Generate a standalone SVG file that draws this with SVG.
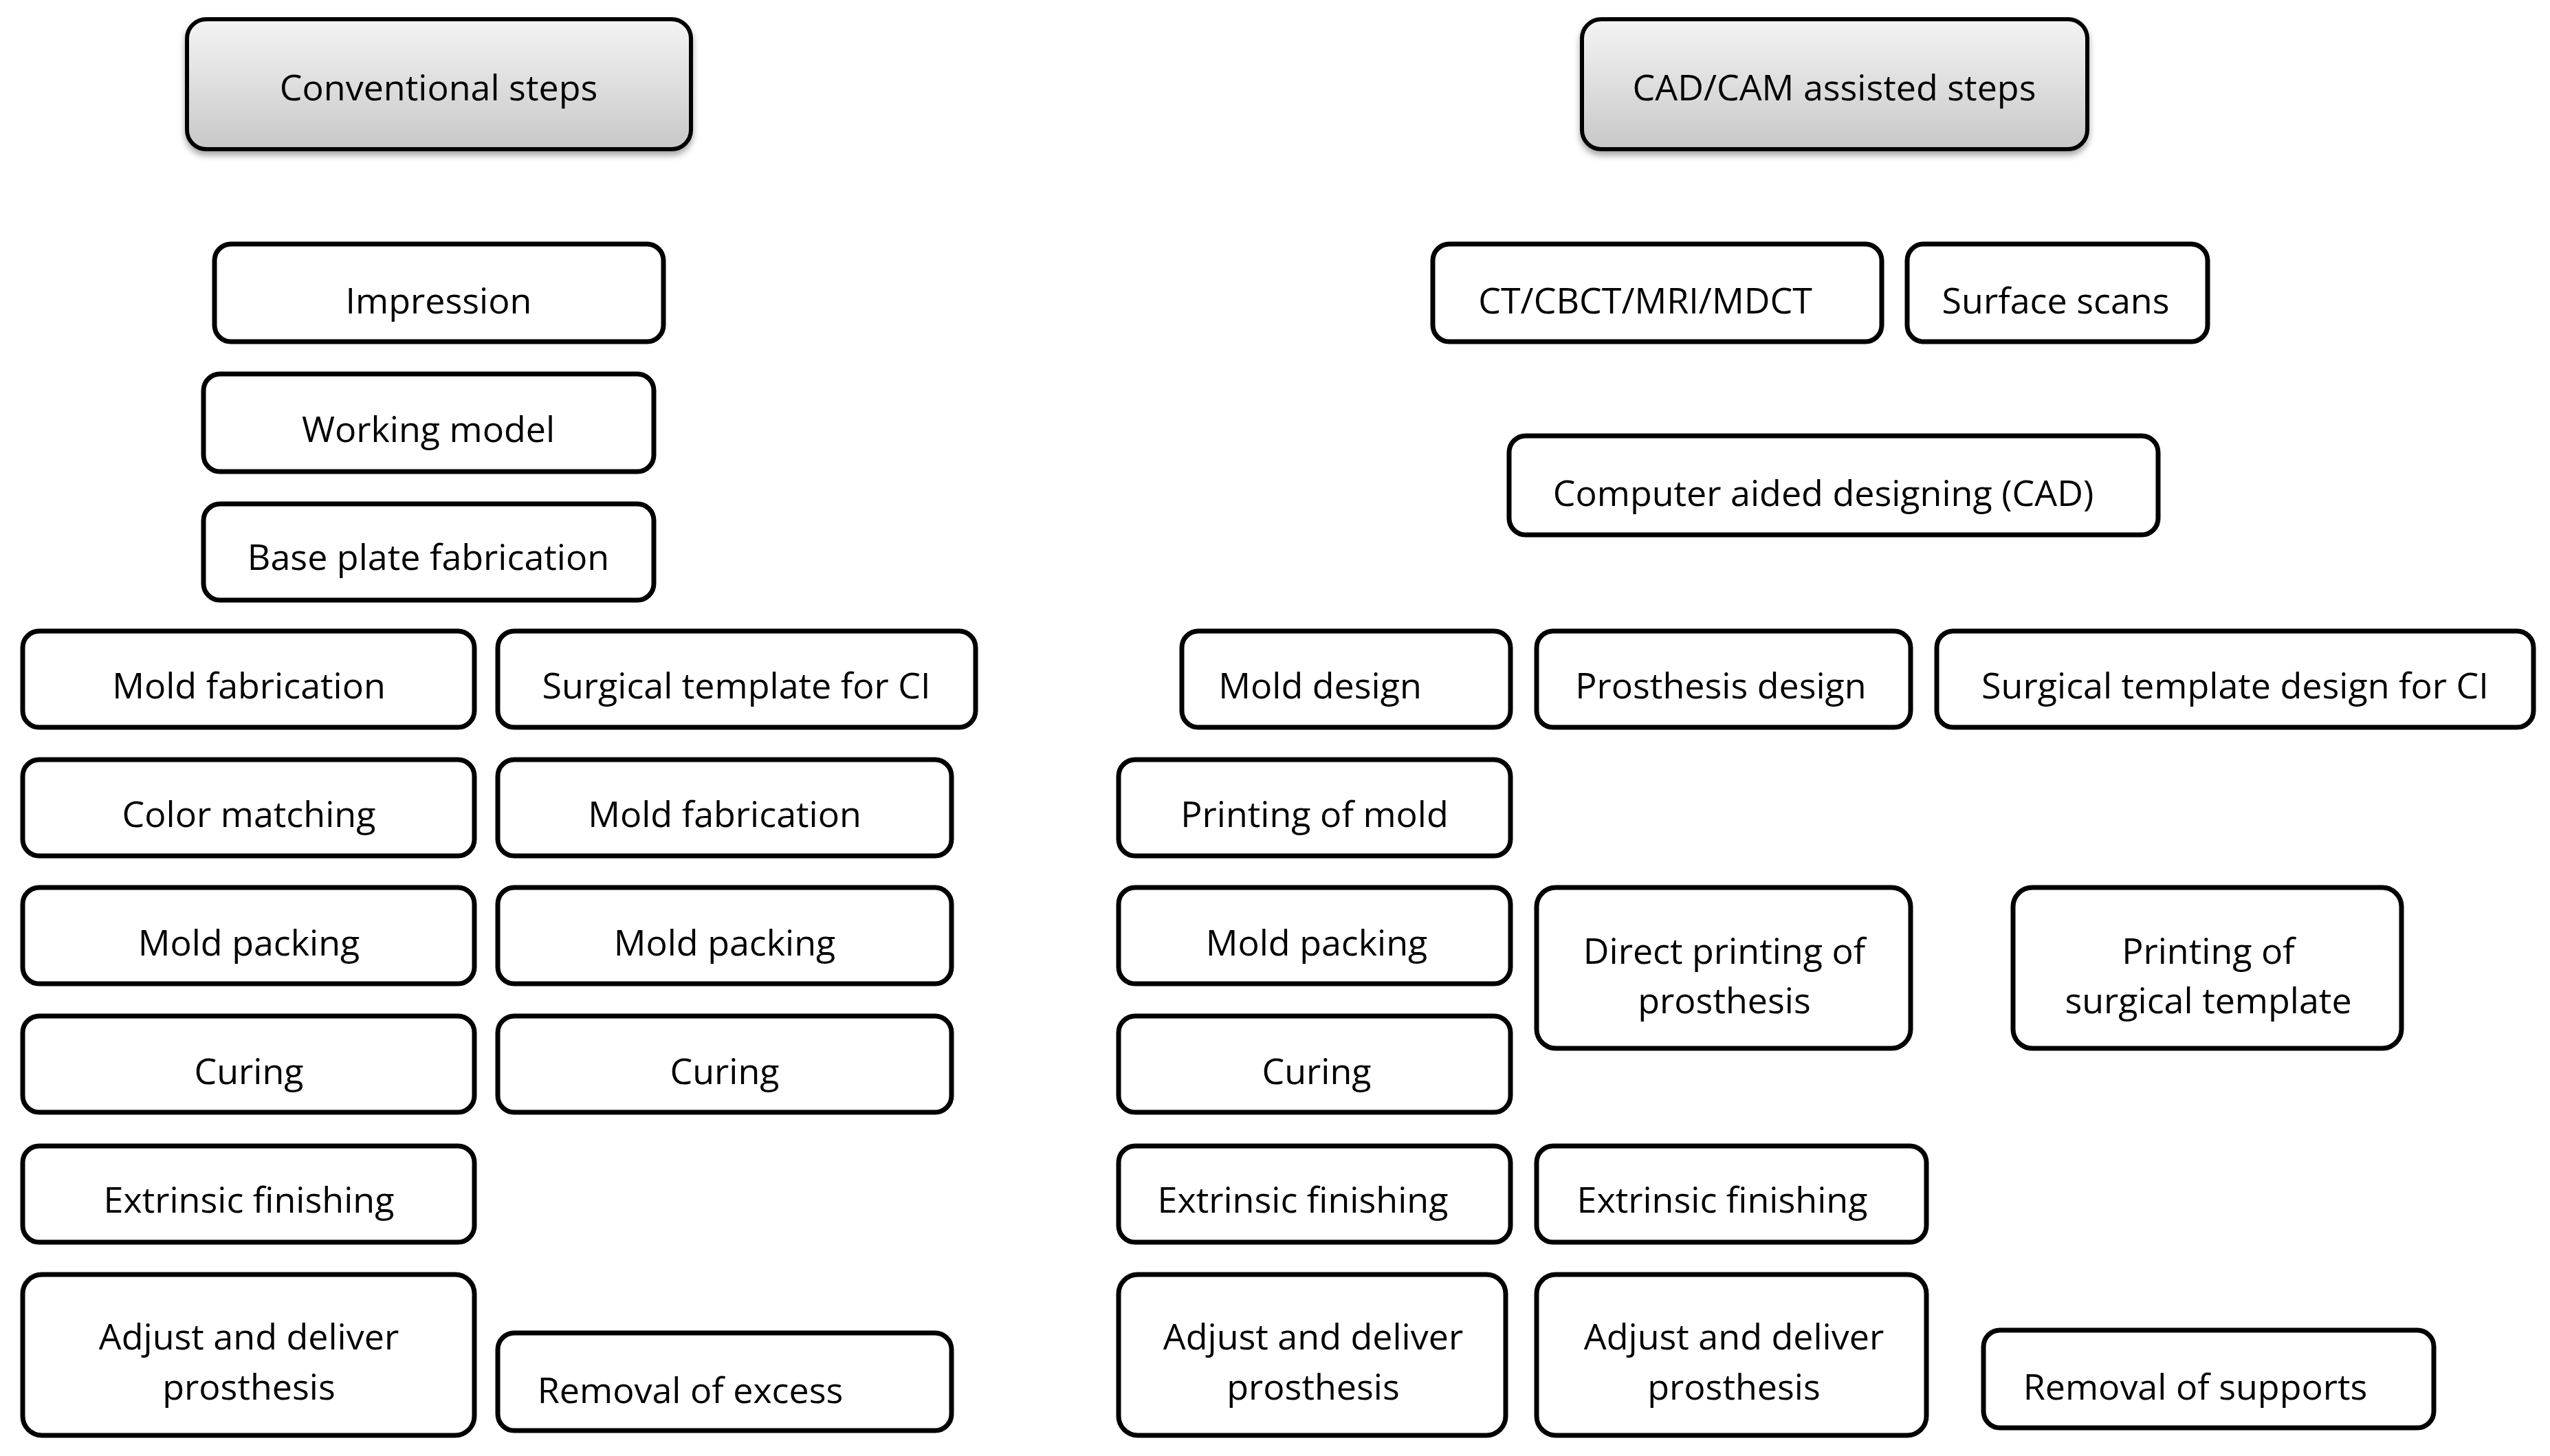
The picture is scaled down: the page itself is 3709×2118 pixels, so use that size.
<svg xmlns="http://www.w3.org/2000/svg" width="3709" height="2118" viewBox="0 0 3709 2118">
<style>
.b{fill:#fff;stroke:#000;stroke-width:7}
.h{fill:url(#g);stroke:#000;stroke-width:6;filter:url(#sh)}
text{font-family:"Open Sans","Noto Sans",sans-serif;font-size:52px;fill:#000;text-anchor:middle;dominant-baseline:central}
</style>
<defs>
<linearGradient id="g" x1="0" y1="0" x2="0" y2="1"><stop offset="0" stop-color="#f4f4f4"/><stop offset="1" stop-color="#c8c8c8"/></linearGradient>
<filter id="sh" x="-10%" y="-10%" width="120%" height="130%"><feDropShadow dx="0" dy="6" stdDeviation="5" flood-color="#000" flood-opacity="0.35"/></filter>
</defs>
<rect width="3709" height="2118" fill="#fff"/>
<g id="h1"><rect class="h" x="272" y="28" width="733" height="189" rx="28"/><text x="638" y="125">Conventional steps</text></g>
<g id="h2"><rect class="h" x="2301" y="28" width="735" height="189" rx="28"/><text x="2668" y="125">CAD/CAM assisted steps</text></g>
<g id="n1"><rect class="b" x="312" y="355" width="653" height="142" rx="24"/><text x="638" y="435">Impression</text></g>
<g id="n2"><rect class="b" x="296" y="544" width="655" height="142" rx="24"/><text x="623" y="622">Working model</text></g>
<g id="n3"><rect class="b" x="296" y="733" width="655" height="140" rx="24"/><text x="623" y="808">Base plate fabrication</text></g>
<g id="n4"><rect class="b" x="33" y="918" width="657" height="140" rx="24"/><text x="362" y="995">Mold fabrication</text></g>
<g id="n5"><rect class="b" x="724" y="918" width="695" height="140" rx="24"/><text x="1071" y="995">Surgical template for CI</text></g>
<g id="n6"><rect class="b" x="33" y="1105" width="657" height="140" rx="24"/><text x="362" y="1182">Color matching</text></g>
<g id="n7"><rect class="b" x="724" y="1105" width="660" height="140" rx="24"/><text x="1054" y="1182">Mold fabrication</text></g>
<g id="n8"><rect class="b" x="33" y="1291" width="657" height="140" rx="24"/><text x="362" y="1369">Mold packing</text></g>
<g id="n9"><rect class="b" x="724" y="1291" width="660" height="140" rx="24"/><text x="1054" y="1369">Mold packing</text></g>
<g id="n10"><rect class="b" x="33" y="1478" width="657" height="140" rx="24"/><text x="362" y="1556">Curing</text></g>
<g id="n11"><rect class="b" x="724" y="1478" width="660" height="140" rx="24"/><text x="1054" y="1556">Curing</text></g>
<g id="n12"><rect class="b" x="33" y="1667" width="657" height="140" rx="24"/><text x="362" y="1743">Extrinsic finishing</text></g>
<g id="n13"><rect class="b" x="33" y="1854" width="657" height="234" rx="28"/><text x="362" y="1942">Adjust and deliver</text><text x="362" y="2015">prosthesis</text></g>
<g id="n14"><rect class="b" x="724" y="1939" width="660" height="142" rx="24"/><text x="1004" y="2020">Removal of excess</text></g>
<g id="r1"><rect class="b" x="2084" y="355" width="653" height="142" rx="24"/><text x="2393" y="435">CT/CBCT/MRI/MDCT</text></g>
<g id="r2"><rect class="b" x="2774" y="355" width="437" height="142" rx="24"/><text x="2990" y="435">Surface scans</text></g>
<g id="r3"><rect class="b" x="2195" y="634" width="944" height="144" rx="24"/><text x="2652" y="715">Computer aided designing (CAD)</text></g>
<g id="r4"><rect class="b" x="1719" y="918" width="478" height="140" rx="24"/><text x="1920" y="995">Mold design</text></g>
<g id="r5"><rect class="b" x="2235" y="918" width="544" height="140" rx="24"/><text x="2503" y="995">Prosthesis design</text></g>
<g id="r6"><rect class="b" x="2817" y="918" width="868" height="140" rx="24"/><text x="3251" y="995">Surgical template design for CI</text></g>
<g id="r7"><rect class="b" x="1627" y="1105" width="570" height="140" rx="24"/><text x="1912" y="1182">Printing of mold</text></g>
<g id="r8"><rect class="b" x="1627" y="1291" width="570" height="140" rx="24"/><text x="1915" y="1369">Mold packing</text></g>
<g id="r9"><rect class="b" x="2235" y="1291" width="544" height="234" rx="28"/><text x="2508" y="1381">Direct printing of</text><text x="2508" y="1453">prosthesis</text></g>
<g id="r10"><rect class="b" x="2928" y="1291" width="565" height="234" rx="28"/><text x="3212" y="1381">Printing of</text><text x="3212" y="1453">surgical template</text></g>
<g id="r11"><rect class="b" x="1627" y="1478" width="570" height="140" rx="24"/><text x="1915" y="1556">Curing</text></g>
<g id="r12"><rect class="b" x="1627" y="1667" width="570" height="140" rx="24"/><text x="1895" y="1743">Extrinsic finishing</text></g>
<g id="r13"><rect class="b" x="2235" y="1667" width="567" height="140" rx="24"/><text x="2505" y="1743">Extrinsic finishing</text></g>
<g id="r14"><rect class="b" x="1627" y="1854" width="563" height="234" rx="28"/><text x="1910" y="1942">Adjust and deliver</text><text x="1910" y="2015">prosthesis</text></g>
<g id="r15"><rect class="b" x="2235" y="1854" width="567" height="234" rx="28"/><text x="2522" y="1942">Adjust and deliver</text><text x="2522" y="2015">prosthesis</text></g>
<g id="r16"><rect class="b" x="2885" y="1935" width="655" height="142" rx="24"/><text x="3193" y="2015">Removal of supports</text></g>
<g id="connectors"></g>
</svg>
